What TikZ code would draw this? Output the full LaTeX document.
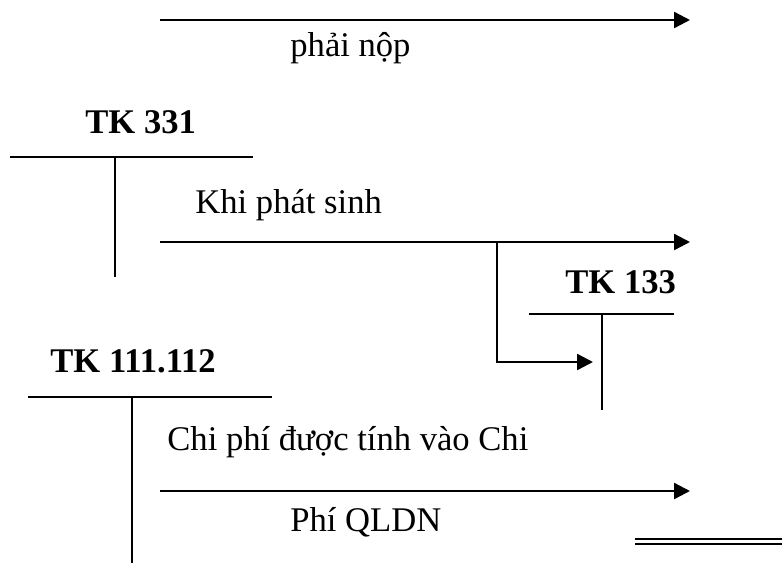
\documentclass[tikz,border=0pt]{standalone}
\usepackage{fontspec}
\setmainfont{Liberation Serif}
\usepackage{tikz}
\usetikzlibrary{arrows.meta}

\begin{document}
\begin{tikzpicture}[
    x=0.5pt, y=-0.5pt,
    lbl/.style={anchor=base west, inner sep=0pt, font=\fontsize{17.3}{20}\selectfont},
    acct/.style={lbl, font=\fontsize{17.3}{20}\selectfont\bfseries},
    tline/.style={line width=0.9pt},
    arr/.style={-{Triangle[length=8pt,width=8pt]}, line width=1.2pt}
]
\useasboundingbox (0,0) rectangle (782,563);

% labels
\node[lbl] (phainop) at (290,56) {phải nộp};
\node[acct] (tk331) at (85,133) {TK 331};
\node[lbl] (khiphat) at (195,213) {Khi phát sinh};
\node[acct] (tk133) at (565,293) {TK 133};
\node[acct] (tk111) at (50,372) {TK 111.112};
\node[lbl] (chiphi) at (167,450) {Chi phí được tính vào Chi};
\node[lbl] (qldn) at (290,531) {Phí QLDN};

% T accounts
\coordinate (t331l) at (10,157);  \coordinate (t331r) at (253,157);
\coordinate (t331t) at (115,157); \coordinate (t331b) at (115,277);
\coordinate (t133l) at (529,314); \coordinate (t133r) at (674,314);
\coordinate (t133t) at (602,314); \coordinate (t133b) at (602,410);
\coordinate (t111l) at (28,397);  \coordinate (t111r) at (272,397);
\coordinate (t111t) at (132,397); \coordinate (t111b) at (132,563);
\draw[tline] (t331l) -- (t331r);
\draw[tline] (t331t) -- (t331b);
\draw[tline] (t133l) -- (t133r);
\draw[tline] (t133t) -- (t133b);
\draw[tline] (t111l) -- (t111r);
\draw[tline] (t111t) -- (t111b);

% arrows
\coordinate (a1s) at (160,20);  \coordinate (a1e) at (690,20);
\coordinate (a2s) at (160,242); \coordinate (a2e) at (690,242);
\coordinate (a3s) at (160,491); \coordinate (a3e) at (690,491);
\coordinate (brk) at (497,242); \coordinate (vat) at (593,362);
\draw[arr] (a1s) -- (a1e);
\draw[arr] (a2s) -- (a2e);
\draw[arr] (brk) |- (vat);
\draw[arr] (a3s) -- (a3e);

% double rule
\coordinate (dbl1) at (635,541.5); \coordinate (dbl2) at (782,541.5);
\draw[double, double distance=1.5pt, line width=1pt] (dbl1) -- (dbl2);
\end{tikzpicture}
\end{document}
